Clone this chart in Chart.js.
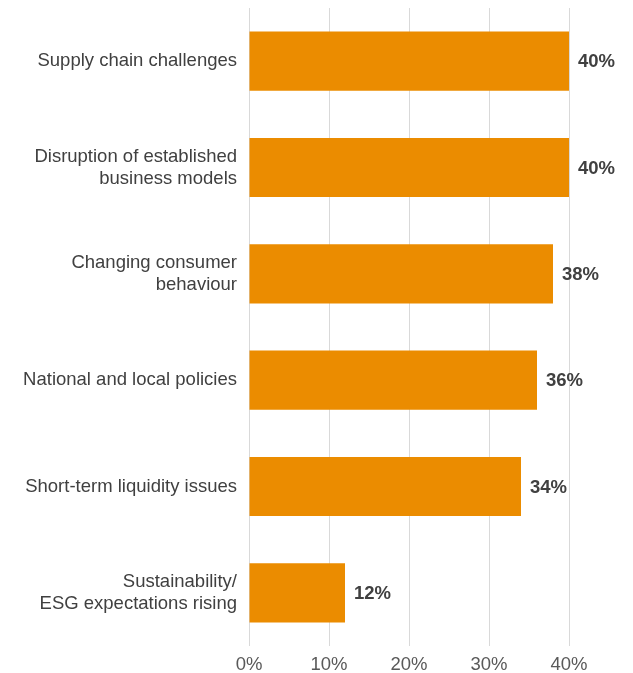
<!DOCTYPE html>
<html>
<head>
<meta charset="utf-8">
<script src="https://cdn.jsdelivr.net/npm/chart.js@4"></script>
<style>
  html, body { margin: 0; padding: 0; background: #fff; overflow: hidden; }
  #wrap { width: 633px; height: 673px; }
  canvas { display: block; }
</style>
</head>
<body>
<div id="wrap"><canvas id="challengesChart" width="633" height="673"></canvas></div>
<script>
// Categorías y valores (%)
const categories = [
    ['Supply chain challenges'],
    ['Disruption of established', 'business models'],
    ['Changing consumer', 'behaviour'],
    ['National and local policies'],
    ['Short-term liquidity issues'],
    ['Sustainability/', 'ESG expectations rising']
];
const values = [40, 40, 38, 36, 34, 12];
const xTicks = [0, 10, 20, 30, 40];

const FONT = '"Liberation Sans", Arial, sans-serif';

// Etiquetas de valor al final de cada barra
const valueLabels = {
    id: 'valueLabels',
    afterDatasetsDraw(chart) {
        const ctx = chart.ctx;
        const meta = chart.getDatasetMeta(0);
        ctx.save();
        ctx.font = 'bold 18.5px ' + FONT;
        ctx.fillStyle = '#404040';
        ctx.textAlign = 'left';
        ctx.textBaseline = 'middle';
        meta.data.forEach((bar, i) => {
            ctx.fillText(values[i] + '%', bar.x + 9, bar.y + 1);
        });
        ctx.restore();
    }
};

function initializeChart() {
    const ctx = document.getElementById('challengesChart').getContext('2d');
    new Chart(ctx, {
        type: 'bar',
        data: {
            labels: categories,
            datasets: [{
                data: values,
                backgroundColor: '#EB8C00',
                borderWidth: 0,
                barPercentage: 0.556,
                categoryPercentage: 1
            }]
        },
        options: {
            indexAxis: 'y',
            responsive: false,
            animation: false,
            layout: { padding: { top: 8, right: 64, left: 0, bottom: 0 } },
            plugins: {
                legend: { display: false },
                tooltip: { enabled: false }
            },
            scales: {
                x: {
                    min: 0,
                    max: 40,
                    afterBuildTicks(scale) {
                        scale.ticks = xTicks.map(v => ({ value: v }));
                    },
                    afterFit(scale) {
                        scale.height = 27;
                        scale.paddingLeft = 0;
                        scale.paddingRight = 0;
                    },
                    grid: { color: '#d9d9d9', drawTicks: false, lineWidth: 1 },
                    border: { display: false },
                    ticks: {
                        padding: 8,
                        color: '#595959',
                        font: { family: FONT, size: 18.5 },
                        callback: v => v + '%'
                    }
                },
                y: {
                    afterFit(scale) {
                        scale.width = 249;
                        scale.paddingTop = 0;
                        scale.paddingBottom = 0;
                    },
                    grid: { display: false, drawTicks: false },
                    border: { display: false },
                    ticks: {
                        padding: 12,
                        color: '#404040',
                        font: { family: FONT, size: 18.5, lineHeight: 1.19 }
                    }
                }
            }
        },
        plugins: [valueLabels]
    });
}

document.addEventListener('DOMContentLoaded', initializeChart);
</script>
</body>
</html>
